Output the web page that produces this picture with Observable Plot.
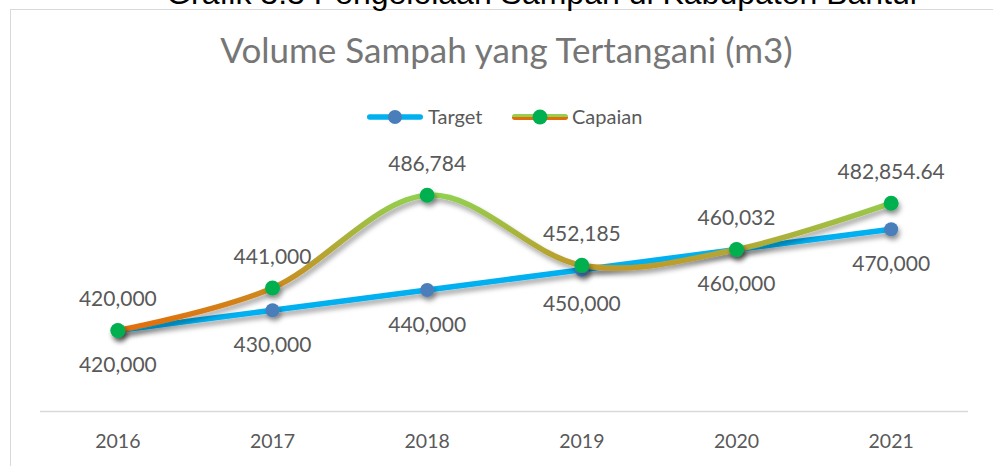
<!DOCTYPE html>
<html>
<head>
<meta charset="utf-8">
<script src="https://cdn.jsdelivr.net/npm/d3@7"></script>
<script src="https://cdn.jsdelivr.net/npm/@observablehq/plot@0.6"></script>
<style>
  html, body { margin: 0; padding: 0; background: #fff; }
  #page { position: relative; width: 993px; height: 466px; overflow: hidden; background: #fff; }
  #frame { position: absolute; left: 10px; top: 9px; width: 1100px; height: 600px; border: 1.5px solid #d9d9d9; box-sizing: border-box; }
  #toptitle { position: absolute; left: 0; width: 1083px; top: -23px; text-align: center; font-family: "Liberation Sans", Arial, sans-serif; font-size: 32px; line-height: 32px; color: #000; white-space: nowrap; }
  #title { position: absolute; left: 0; width: 1013px; top: 30px; text-align: center; font-family: Lato, "Open Sans", sans-serif; font-size: 35px; line-height: 38px; color: #767676; white-space: nowrap; }
  #legend { position: absolute; left: 0; top: 100px; }
  #chart { position: absolute; left: 0; top: 140px; }
</style>
</head>
<body>
<div id="page">
  <div id="frame"></div>
  <div id="toptitle">Grafik 3.3 Pengelolaan Sampah di Kabupaten Bantul</div>
  <div id="title">Volume Sampah yang Tertangani (m3)</div>
  <svg id="legend" width="993" height="34" font-family="Lato, 'Open Sans', sans-serif" font-size="20">
    <defs>
      <linearGradient id="legGrad" x1="0" x2="0" y1="0" y2="1">
        <stop offset="0" stop-color="#92D050"/>
        <stop offset="0.5" stop-color="#92D050"/>
        <stop offset="0.5" stop-color="#E46C0A"/>
        <stop offset="1" stop-color="#E46C0A"/>
      </linearGradient>
    </defs>
    <rect x="367" y="14.25" width="56" height="5.5" rx="2.7" fill="#00B0F0"/>
    <circle cx="395" cy="17" r="7" fill="#4a7ebb"/>
    <text x="428" y="17" dy="0.35em" fill="#595959">Target</text>
    <rect x="512" y="14" width="56" height="6" rx="2.7" fill="url(#legGrad)"/>
    <circle cx="540" cy="17" r="7.5" fill="#00B050"/>
    <text x="572" y="17" dy="0.35em" fill="#595959">Capaian</text>
  </svg>
  <div id="chart"></div>
</div>
<script>
const years = ["2016", "2017", "2018", "2019", "2020", "2021"];
const target = [420000, 430000, 440000, 450000, 460000, 470000];
const capaian = [420000, 441000, 486784, 452185, 460032, 482854.64];
const yDomain = [380000, 500000];

const fmt = d3.format(",");
const targetData = years.map((year, i) => ({year, value: target[i], label: fmt(target[i])}));
const capaianData = years.map((year, i) => ({year, value: capaian[i], label: fmt(capaian[i])}));

const chart = Plot.plot({
  width: 993,
  height: 326,
  marginLeft: 40,
  marginRight: 25,
  marginTop: 28,
  marginBottom: 55,
  style: {fontFamily: "Lato, 'Open Sans', sans-serif", background: "transparent", overflow: "visible"},
  x: {type: "point", domain: years, padding: 0.5, axis: null, round: false},
  y: {domain: yDomain, axis: null},
  marks: [
    Plot.ruleY([yDomain[0]], {stroke: "#d9d9d9", strokeWidth: 1.5}),
    Plot.axisX({tickSize: 0, tickPadding: 23, fontSize: 19.5, color: "#595959", label: null}),
    Plot.line(targetData, {x: "year", y: "value", stroke: "#00B0F0", strokeWidth: 5.5, strokeLinecap: "round"}),
    Plot.line(capaianData, {x: "year", y: "value", stroke: "url(#capGrad)", strokeWidth: 5.5, curve: "cardinal", strokeLinecap: "round"}),
    Plot.dot(targetData, {x: "year", y: "value", r: 7, fill: "#4a7ebb"}),
    Plot.dot(capaianData, {x: "year", y: "value", r: 7.5, fill: "#00B050"}),
    Plot.text(capaianData, {x: "year", y: "value", text: "label", dy: -31, fontSize: 21, fill: "#595959"}),
    Plot.text(targetData, {x: "year", y: "value", text: "label", dy: 35, fontSize: 21, fill: "#595959"})
  ]
});

const ys = chart.scale("y");
const y0 = ys.apply(d3.min(capaian));
const y1 = ys.apply(d3.max(capaian));
d3.select(chart).insert("defs", ":first-child").html(`
  <linearGradient id="capGrad" gradientUnits="userSpaceOnUse" x1="0" x2="0" y1="${y0}" y2="${y1}">
    <stop offset="0" stop-color="#E46C0A"/>
    <stop offset="1" stop-color="#92D050"/>
  </linearGradient>
  <filter id="shadow" x="-10%" y="-50%" width="130%" height="220%">
    <feDropShadow dx="2" dy="4" stdDeviation="2.5" flood-color="#000" flood-opacity="0.35"/>
  </filter>`);
d3.select(chart).selectAll('g[aria-label="line"], g[aria-label="dot"]').attr("filter", "url(#shadow)");

document.getElementById("chart").appendChild(chart);
</script>
</body>
</html>
